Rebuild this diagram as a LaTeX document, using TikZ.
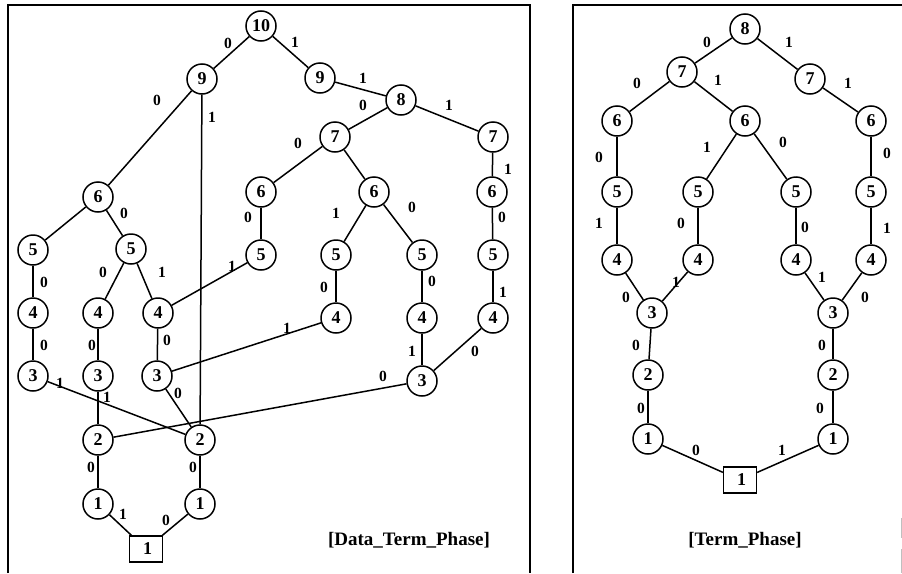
\documentclass[tikz,border=0pt]{standalone}
\usepackage{fontspec}
\setmainfont{Liberation Serif}
\begin{document}
\begin{tikzpicture}[x=1pt,y=-1pt,
  nd/.style={circle,draw,line width=1.5pt,minimum size=30pt,inner sep=0pt,font=\fontsize{18}{18}\selectfont\bfseries},
  bx/.style={rectangle,draw,line width=1.3pt,minimum width=33pt,minimum height=26pt,inner sep=0pt,font=\fontsize{18}{18}\selectfont\bfseries},
  lbl/.style={inner sep=0pt,font=\fontsize{15.5}{15.5}\selectfont\bfseries},
  ttl/.style={inner sep=0pt,font=\fontsize{19}{19}\selectfont\bfseries},
  ed/.style={line width=1.5pt},
  frm/.style={line width=1.5pt},
  faint/.style={line width=0.7pt,draw=gray!50}]
\useasboundingbox (0,0) rectangle (902,573);
% frames
\coordinate (fa1) at (8,573); \coordinate (fa2) at (8,5); \coordinate (fa3) at (530,5); \coordinate (fa4) at (530,573);
\draw[frm] (fa1) -- (fa2) -- (fa3) -- (fa4);
\coordinate (fb1) at (573,573); \coordinate (fb2) at (573,5); \coordinate (fb3) at (902,5);
\draw[frm] (fb1) -- (fb2) -- (fb3);
\coordinate (fc1) at (901,518); \coordinate (fc2) at (901,538);
\coordinate (fc3) at (901,549); \coordinate (fc4) at (901,573);
\draw[faint] (fc1) -- (fc2);
\draw[faint] (fc3) -- (fc4);

% ===== left panel nodes =====
\node[nd] (a10) at (261,26) {10};
\node[nd] (a9l) at (202,79) {9};
\node[nd] (a9r) at (320,78) {9};
\node[nd] (a8) at (401,100) {8};
\node[nd] (a7l) at (335,137) {7};
\node[nd] (a7r) at (493,137) {7};
\node[nd] (a6a) at (98,197) {6};
\node[nd] (a6b) at (261,192) {6};
\node[nd] (a6c) at (374,192) {6};
\node[nd] (a6d) at (492,192) {6};
\node[nd] (a5a) at (33,250) {5};
\node[nd] (a5b) at (131,249) {5};
\node[nd] (a5c) at (261,255) {5};
\node[nd] (a5d) at (336,255) {5};
\node[nd] (a5e) at (422,255) {5};
\node[nd] (a5f) at (493,255) {5};
\node[nd] (a4a) at (33,313) {4};
\node[nd] (a4b) at (98,313) {4};
\node[nd] (a4c) at (158,313) {4};
\node[nd] (a4d) at (336,318) {4};
\node[nd] (a4e) at (422,318) {4};
\node[nd] (a4f) at (493,318) {4};
\node[nd] (a3a) at (33,376) {3};
\node[nd] (a3b) at (98,376) {3};
\node[nd] (a3c) at (157,376) {3};
\node[nd] (a3d) at (422,381) {3};
\node[nd] (a2l) at (98,440) {2};
\node[nd] (a2r) at (200,440) {2};
\node[nd] (a1l) at (98,504) {1};
\node[nd] (a1r) at (200,504) {1};
\node[bx] (abox) at (146,549) {\,1};
\node[ttl] (at) at (409,540) {[Data\_Term\_Phase]};

% ===== left panel edges =====
\draw[ed] (a10) -- (a9l) node[lbl] (e1) at (228,43) {0};
\draw[ed] (a10) -- (a9r) node[lbl] (e2) at (295,42) {1};
\draw[ed] (a9l) -- (a6a) node[lbl] (e3) at (157,100) {0};
\draw[ed] (a9l) -- (a2r) node[lbl] (e4) at (212,117) {1};
\draw[ed] (a9r) -- (a8) node[lbl] (e5) at (363,78) {1};
\draw[ed] (a8) -- (a7l) node[lbl] (e6) at (363,105) {0};
\draw[ed] (a8) -- (a7r) node[lbl] (e7) at (449,105) {1};
\draw[ed] (a7l) -- (a6b) node[lbl] (e8) at (298,143) {0};
\draw[ed] (a7l) -- (a6c);
\draw[ed] (a7r) -- (a6d) node[lbl] (e9) at (508,169) {1};
\draw[ed] (a6b) -- (a5c) node[lbl] (e10) at (248,217) {0};
\draw[ed] (a6c) -- (a5d) node[lbl] (e11) at (336,213) {1};
\draw[ed] (a6c) -- (a5e) node[lbl] (e12) at (412,207) {0};
\draw[ed] (a6d) -- (a5f) node[lbl] (e13) at (502,217) {0};
\draw[ed] (a5c) -- (a4c) node[lbl] (e14) at (232,266) {1};
\draw[ed] (a5d) -- (a4d) node[lbl] (e15) at (324,287) {0};
\draw[ed] (a5e) -- (a4e) node[lbl] (e16) at (432,281) {0};
\draw[ed] (a5f) -- (a4f) node[lbl] (e17) at (503,292) {1};
\draw[ed] (a4d) -- (a3c) node[lbl] (e18) at (287,328) {1};
\draw[ed] (a4e) -- (a3d) node[lbl] (e19) at (412,351) {1};
\draw[ed] (a4f) -- (a3d) node[lbl] (e20) at (475,351) {0};
\draw[ed] (a3d) -- (a2l) node[lbl] (e21) at (383,376) {0};
\draw[ed] (a6a) -- (a5a);
\draw[ed] (a6a) -- (a5b) node[lbl] (e22) at (124,213) {0};
\draw[ed] (a5a) -- (a4a) node[lbl] (e23) at (44,282) {0};
\draw[ed] (a5b) -- (a4b) node[lbl] (e24) at (103,272) {0};
\draw[ed] (a5b) -- (a4c) node[lbl] (e25) at (162,272) {1};
\draw[ed] (a4a) -- (a3a) node[lbl] (e26) at (44,345) {0};
\draw[ed] (a4b) -- (a3b) node[lbl] (e27) at (92,345) {0};
\draw[ed] (a4c) -- (a3c) node[lbl] (e28) at (167,340) {0};
\draw[ed] (a3a) -- (a2r) node[lbl] (e29) at (60,383) {1};
\draw[ed] (a3b) -- (a2l) node[lbl] (e30) at (107,397) {1};
\draw[ed] (a3c) -- (a2r) node[lbl] (e31) at (178,393) {0};
\draw[ed] (a2l) -- (a1l) node[lbl] (e32) at (91,467) {0};
\draw[ed] (a2r) -- (a1r) node[lbl] (e33) at (193,467) {0};
\draw[ed] (a1l) -- (abox) node[lbl] (e34) at (123,514) {1};
\draw[ed] (a1r) -- (abox) node[lbl] (e35) at (166,520) {0};

% ===== right panel nodes =====
\node[nd] (b8) at (745,29) {8};
\node[nd] (b7l) at (682,72) {7};
\node[nd] (b7r) at (810,79) {7};
\node[nd] (b6a) at (617,121) {6};
\node[nd] (b6b) at (745,121) {6};
\node[nd] (b6c) at (871,121) {6};
\node[nd] (b5a) at (617,192) {5};
\node[nd] (b5b) at (698,192) {5};
\node[nd] (b5c) at (796,192) {5};
\node[nd] (b5d) at (871,192) {5};
\node[nd] (b4a) at (617,260) {4};
\node[nd] (b4b) at (698,260) {4};
\node[nd] (b4c) at (796,260) {4};
\node[nd] (b4d) at (871,260) {4};
\node[nd] (b3l) at (652,313) {3};
\node[nd] (b3r) at (833,313) {3};
\node[nd] (b2l) at (648,375) {2};
\node[nd] (b2r) at (833,375) {2};
\node[nd] (b1l) at (648,439) {1};
\node[nd] (b1r) at (833,439) {1};
\node[bx] (bbox) at (740,480) {\,1};
\node[ttl] (bt) at (745,540) {[Term\_Phase]};

% ===== right panel edges =====
\draw[ed] (b8) -- (b7l) node[lbl] (f1) at (707,42) {0};
\draw[ed] (b8) -- (b7r) node[lbl] (f2) at (789,42) {1};
\draw[ed] (b7l) -- (b6a) node[lbl] (f3) at (637,83) {0};
\draw[ed] (b7l) -- (b6b) node[lbl] (f4) at (718,80) {1};
\draw[ed] (b7r) -- (b6c) node[lbl] (f5) at (848,83) {1};
\draw[ed] (b6a) -- (b5a) node[lbl] (f6) at (599,157) {0};
\draw[ed] (b6b) -- (b5b) node[lbl] (f7) at (707,147) {1};
\draw[ed] (b6b) -- (b5c) node[lbl] (f8) at (783,142) {0};
\draw[ed] (b6c) -- (b5d) node[lbl] (f9) at (887,153) {0};
\draw[ed] (b5a) -- (b4a) node[lbl] (f10) at (599,223) {1};
\draw[ed] (b5b) -- (b4b) node[lbl] (f11) at (681,223) {0};
\draw[ed] (b5c) -- (b4c) node[lbl] (f12) at (805,227) {0};
\draw[ed] (b5d) -- (b4d) node[lbl] (f13) at (887,228) {1};
\draw[ed] (b4a) -- (b3l) node[lbl] (f14) at (626,297) {0};
\draw[ed] (b4b) -- (b3l) node[lbl] (f15) at (676,282) {1};
\draw[ed] (b4c) -- (b3r) node[lbl] (f16) at (822,277) {1};
\draw[ed] (b4d) -- (b3r) node[lbl] (f17) at (865,297) {0};
\draw[ed] (b3l) -- (b2l) node[lbl] (f18) at (636,345) {0};
\draw[ed] (b3r) -- (b2r) node[lbl] (f19) at (822,345) {0};
\draw[ed] (b2l) -- (b1l) node[lbl] (f20) at (641,408) {0};
\draw[ed] (b2r) -- (b1r) node[lbl] (f21) at (820,408) {0};
\draw[ed] (b1l) -- (bbox) node[lbl] (f22) at (696,450) {0};
\draw[ed] (b1r) -- (bbox) node[lbl] (f23) at (782,450) {1};
\end{tikzpicture}
\end{document}
